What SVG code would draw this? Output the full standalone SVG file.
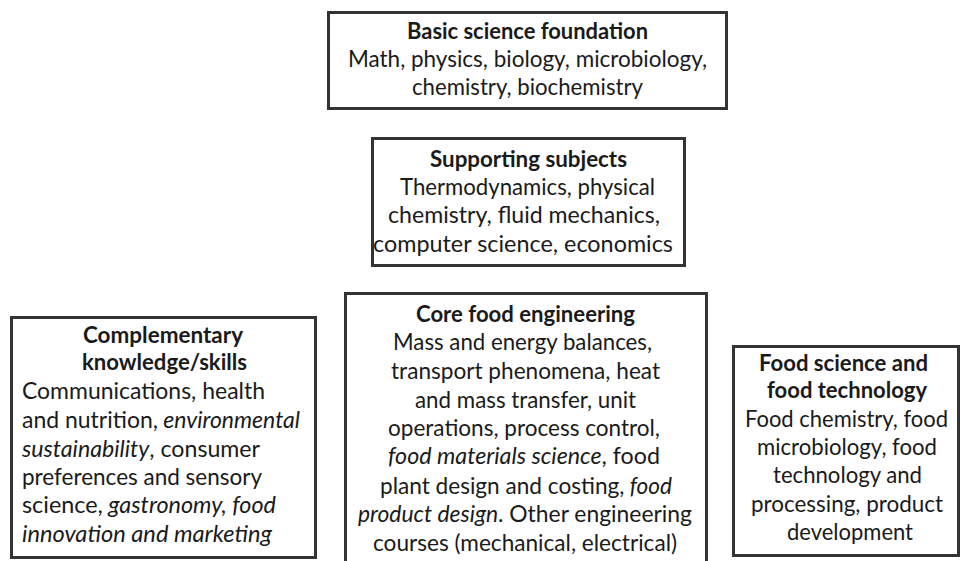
<svg xmlns="http://www.w3.org/2000/svg" width="961" height="561" viewBox="0 0 961 561">
<style>
.box{fill:#fff;stroke:#333;stroke-width:3}
text{font-family:Lato,"Liberation Sans",sans-serif;font-size:23px;fill:#1a1a1a}
.b{font-weight:bold}
.i{font-style:italic}
</style>
<rect width="961" height="561" fill="#fff"/>
<g id="connectors"></g>
<g id="basic">
<rect class="box" x="328.5" y="12.5" width="398" height="96"/>
<text class="b" x="407" y="39" textLength="241" lengthAdjust="spacingAndGlyphs">Basic science foundation</text>
<text x="348" y="67" textLength="359" lengthAdjust="spacingAndGlyphs">Math, physics, biology, microbiology,</text>
<text x="412" y="95" textLength="231" lengthAdjust="spacingAndGlyphs">chemistry, biochemistry</text>
</g>
<g id="supporting">
<rect class="box" x="372.5" y="138.5" width="312" height="127"/>
<text class="b" x="430" y="167" textLength="197" lengthAdjust="spacingAndGlyphs">Supporting subjects</text>
<text x="400" y="195" textLength="255" lengthAdjust="spacingAndGlyphs">Thermodynamics, physical</text>
<text x="388" y="223" textLength="272" lengthAdjust="spacingAndGlyphs">chemistry, fluid mechanics,</text>
<text x="373" y="252" textLength="300" lengthAdjust="spacingAndGlyphs">computer science, economics</text>
</g>
<g id="complementary">
<rect class="box" x="11.5" y="317.5" width="304" height="240"/>
<text class="b" x="83" y="343" textLength="160" lengthAdjust="spacingAndGlyphs">Complementary</text>
<text class="b" x="82" y="370" textLength="165" lengthAdjust="spacingAndGlyphs">knowledge/skills</text>
<text x="22" y="399" textLength="243" lengthAdjust="spacingAndGlyphs">Communications,  health</text>
<text x="22" y="428" textLength="278" lengthAdjust="spacingAndGlyphs">and nutrition,<tspan class="i"> environmental</tspan></text>
<text x="22" y="457" textLength="238" lengthAdjust="spacingAndGlyphs"><tspan class="i">sustainability</tspan>, consumer</text>
<text x="22" y="485" textLength="240" lengthAdjust="spacingAndGlyphs">preferences and sensory</text>
<text x="22" y="513" textLength="254" lengthAdjust="spacingAndGlyphs">science,<tspan class="i"> gastronomy, food</tspan></text>
<text class="i" x="22" y="542" textLength="250" lengthAdjust="spacingAndGlyphs">innovation and marketing</text>
</g>
<g id="core">
<rect class="box" x="345.5" y="293.5" width="361" height="280"/>
<text class="b" x="416" y="322" textLength="219" lengthAdjust="spacingAndGlyphs">Core food engineering</text>
<text x="393" y="350" textLength="259" lengthAdjust="spacingAndGlyphs">Mass and energy balances,</text>
<text x="391" y="379" textLength="269" lengthAdjust="spacingAndGlyphs">transport phenomena, heat</text>
<text x="415" y="408" textLength="221" lengthAdjust="spacingAndGlyphs">and mass transfer, unit</text>
<text x="388" y="436" textLength="272" lengthAdjust="spacingAndGlyphs">operations, process control,</text>
<text x="388" y="464" textLength="272" lengthAdjust="spacingAndGlyphs"><tspan class="i">food materials science</tspan>, food</text>
<text x="380" y="494" textLength="292" lengthAdjust="spacingAndGlyphs">plant design and costing,<tspan class="i"> food</tspan></text>
<text x="358" y="522" textLength="334" lengthAdjust="spacingAndGlyphs"><tspan class="i">product design</tspan>. Other engineering</text>
<text x="373" y="551" textLength="304" lengthAdjust="spacingAndGlyphs">courses (mechanical, electrical)</text>
</g>
<g id="foodscience">
<rect class="box" x="733.5" y="346.5" width="225" height="209"/>
<text class="b" x="759" y="371" textLength="169" lengthAdjust="spacingAndGlyphs">Food science and</text>
<text class="b" x="767" y="398" textLength="160" lengthAdjust="spacingAndGlyphs">food technology</text>
<text x="745" y="427" textLength="203" lengthAdjust="spacingAndGlyphs">Food chemistry, food</text>
<text x="757" y="455" textLength="180" lengthAdjust="spacingAndGlyphs">microbiology, food</text>
<text x="773" y="483" textLength="149" lengthAdjust="spacingAndGlyphs">technology and</text>
<text x="751" y="512" textLength="192" lengthAdjust="spacingAndGlyphs">processing, product</text>
<text x="787" y="540" textLength="126" lengthAdjust="spacingAndGlyphs">development</text>
</g>
</svg>
